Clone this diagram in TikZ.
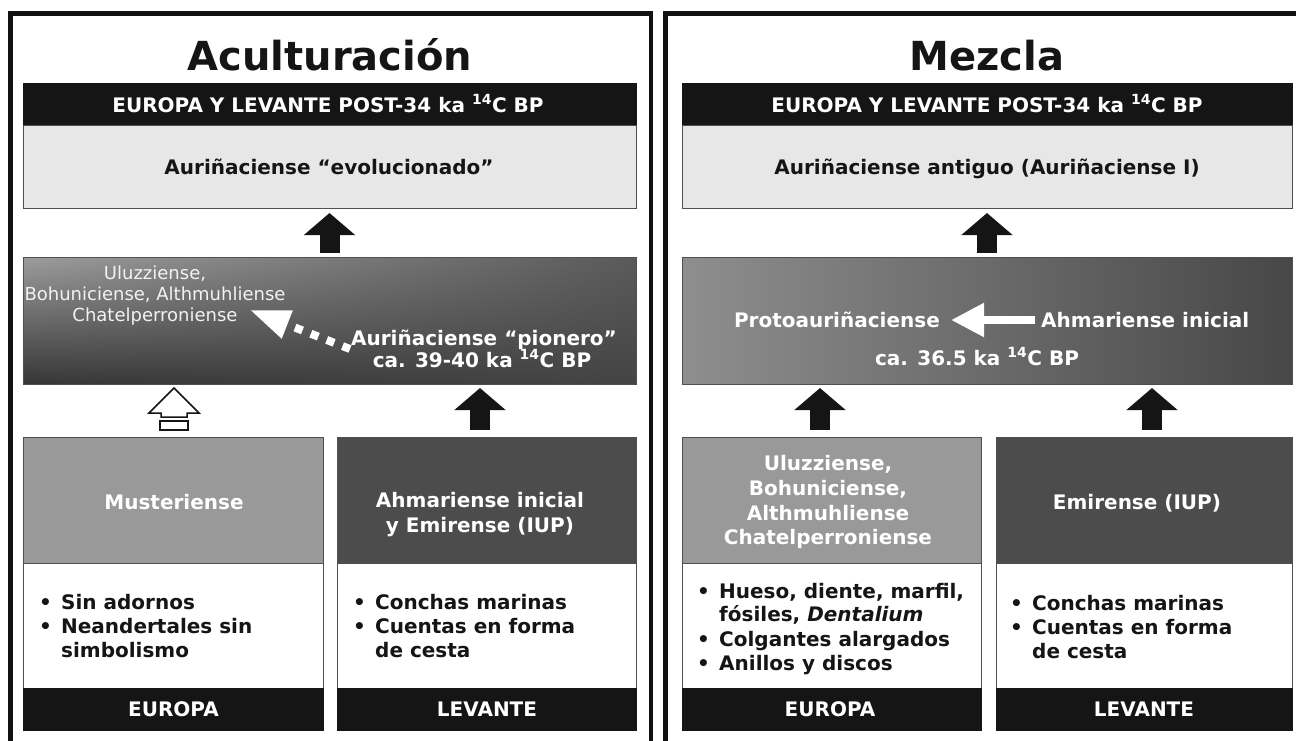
\documentclass[tikz,border=0pt]{standalone}
\usepackage{fontspec}
\setmainfont{DejaVu Sans}
\usetikzlibrary{arrows.meta,shadings}
\definecolor{barblack}{HTML}{151515}
\definecolor{lightbox}{HTML}{E7E7E7}
\definecolor{midgray}{HTML}{999999}
\definecolor{deepgray}{HTML}{4C4C4C}
\definecolor{edgegray}{HTML}{505050}
\definecolor{framec}{HTML}{111111}
\definecolor{softwhite}{HTML}{F2F2F2}
\definecolor{shA}{HTML}{9C9C9C}
\definecolor{shB}{HTML}{5A5A5A}
\definecolor{shC}{HTML}{363636}
\definecolor{shD}{HTML}{444444}
\definecolor{rmL}{HTML}{8E8E8E}
\definecolor{rmM}{HTML}{868686}
\definecolor{rmR}{HTML}{474747}
\newcommand\mybul{\makebox[22pt][l]{•}}
\newcommand\mynobul{\hspace*{22pt}}
\tikzset{
 cell/.style={rectangle, draw=edgegray, line width=0.8pt, inner sep=0pt, outer sep=0pt},
 barcell/.style={cell, fill=barblack, draw=barblack},
 lightcell/.style={cell, fill=lightbox},
 whitecell/.style={cell, fill=white},
 graycell/.style={cell, fill=midgray},
 darkcell/.style={cell, fill=deepgray},
 titletext/.style={font=\fontsize{40}{48}\selectfont\bfseries, text=barblack, inner sep=0pt},
 bold/.style={font=\fontsize{20}{24}\selectfont\bfseries, inner sep=0pt},
 whitebold/.style={bold, text=white},
 darkbold/.style={bold, text=barblack},
 thintext/.style={font=\fontsize{18}{21}\selectfont, text=softwhite, inner sep=0pt},
 blockarrow/.style={draw=barblack, line width=20pt, -{Triangle[width=50pt,length=22pt]}},
 frameline/.style={draw=framec, line width=4.5pt},
}
\begin{document}
\begin{tikzpicture}[x=1pt,y=-1pt]
\useasboundingbox (0,0) rectangle (1296,740);
\clip (0,0) rectangle (1296,740);
\fill[white] (0,0) rectangle (1296,740);
% frames
\draw[frameline] (10.5,760) -- (10.5,13.5) -- (651,13.5) -- (651,760);
\draw[frameline] (665.5,760) -- (665.5,13.5) -- (1310,13.5);

% ---------- LEFT PANEL ----------
\node[titletext, anchor=base] (Lt) at (330,70) {Aculturación};
\node[barcell, minimum width=613pt, minimum height=42pt] (Lbar) at (329.5,104) {};
\node[lightcell, minimum width=613pt, minimum height=83pt] (Lgray) at (329.5,166.5) {};
\node[cell, shade, upper left=shA, upper right=shB, lower left=shC, lower right=shD,
      minimum width=613pt, minimum height=127pt] (Lmid) at (329.5,320.5) {};
\node[graycell, minimum width=300pt, minimum height=126pt] (LblTop) at (173,500) {};
\node[whitecell, minimum width=300pt, minimum height=125pt] (LblMid) at (173,625.5) {};
\node[barcell, minimum width=300pt, minimum height=42pt] (LblBot) at (173,709) {};
\node[darkcell, minimum width=299pt, minimum height=126pt] (LbrTop) at (486.5,500) {};
\node[whitecell, minimum width=299pt, minimum height=125pt] (LbrMid) at (486.5,625.5) {};
\node[barcell, minimum width=299pt, minimum height=42pt] (LbrBot) at (486.5,709) {};

\node[whitebold, anchor=base] (Lbart) at (328,112) {EUROPA Y LEVANTE POST-34 ka \textsuperscript{14}C BP};
\node[darkbold, anchor=base] (Lgt) at (329,174) {Auriñaciense “evolucionado”};
\node[thintext, anchor=base] (Lm1) at (155,279) {Uluzziense,};
\node[thintext, anchor=base] (Lm2) at (155,300) {Bohuniciense, Althmuhliense};
\node[thintext, anchor=base] (Lm3) at (155,321) {Chatelperroniense};
\node[whitebold, anchor=base] (Lm4) at (484,345) {Auriñaciense “pionero”};
\node[whitebold, anchor=base] (Lm5) at (482,367) {ca. 39-40 ka \textsuperscript{14}C BP};
\node[whitebold, anchor=base] (Lb1) at (174,509) {Musteriense};
\node[whitebold, anchor=base] (Lb2) at (480,507) {Ahmariense inicial};
\node[whitebold, anchor=base] (Lb3) at (480,532) {y Emirense (IUP)};
\node[darkbold, anchor=base west] (Lc1) at (39,609) {\mybul Sin adornos};
\node[darkbold, anchor=base west] (Lc2) at (39,633) {\mybul Neandertales sin};
\node[darkbold, anchor=base west] (Lc3) at (39,657) {\mynobul simbolismo};
\node[darkbold, anchor=base west] (Ld1) at (353,609) {\mybul Conchas marinas};
\node[darkbold, anchor=base west] (Ld2) at (353,633) {\mybul Cuentas en forma};
\node[darkbold, anchor=base west] (Ld3) at (353,657) {\mynobul de cesta};
\node[whitebold, anchor=base] (Le1) at (173.5,716) {EUROPA};
\node[whitebold, anchor=base] (Le2) at (487,716) {LEVANTE};

% arrows left
\coordinate (xa) at (480,0);
\draw[blockarrow, shorten <=4pt, shorten >=5pt] (Lmid.north) -- (Lgray.south);
\draw[blockarrow, shorten <=7pt, shorten >=4pt] (LbrTop.north -| xa) -- (Lmid.south -| xa);
\draw[draw=barblack, line width=1.5pt, fill=white, line join=miter]
  (174,388) -- (199,413) -- (187,413) -- (187,417) -- (161,417) -- (161,413) -- (149,413) -- cycle;
\draw[draw=barblack, line width=1.5pt, fill=white] (160,421) rectangle (188,430);
\coordinate (dS) at (350,349);
\coordinate (dE) at (250,310);
\draw[white, line width=8pt, dash pattern=on 8pt off 9pt, -{Triangle[width=28pt,length=40pt]}] (dS) -- (dE);

% ---------- RIGHT PANEL ----------
\node[titletext, anchor=base] (Rt) at (987,70) {Mezcla};
\node[barcell, minimum width=610pt, minimum height=42pt] (Rbar) at (987,104) {};
\node[lightcell, minimum width=610pt, minimum height=83pt] (Rgray) at (987,166.5) {};
\node[cell, shade, left color=rmL, middle color=rmM, right color=rmR,
      minimum width=610pt, minimum height=127pt] (Rmid) at (987,320.5) {};
\node[graycell, minimum width=299pt, minimum height=126pt] (RblTop) at (831.5,500) {};
\node[whitecell, minimum width=299pt, minimum height=125pt] (RblMid) at (831.5,625.5) {};
\node[barcell, minimum width=299pt, minimum height=42pt] (RblBot) at (831.5,709) {};
\node[darkcell, minimum width=296pt, minimum height=126pt] (RbrTop) at (1144,500) {};
\node[whitecell, minimum width=296pt, minimum height=125pt] (RbrMid) at (1144,625.5) {};
\node[barcell, minimum width=296pt, minimum height=42pt] (RbrBot) at (1144,709) {};

\node[whitebold, anchor=base] (Rbart) at (987,112) {EUROPA Y LEVANTE POST-34 ka \textsuperscript{14}C BP};
\node[darkbold, anchor=base] (Rgt) at (987,174) {Auriñaciense antiguo (Auriñaciense I)};
\node[whitebold, anchor=base east] (Rm1) at (940,327) {Protoauriñaciense};
\node[whitebold, anchor=base west] (Rm2) at (1041,327) {Ahmariense inicial};
\node[whitebold, anchor=base] (Rm3) at (977,365) {ca. 36.5 ka \textsuperscript{14}C BP};
\node[whitebold, anchor=base] (Rb1) at (828,470) {Uluzziense,};
\node[whitebold, anchor=base] (Rb2) at (828,495) {Bohuniciense,};
\node[whitebold, anchor=base] (Rb3) at (828,520) {Althmuhliense};
\node[whitebold, anchor=base] (Rb4) at (828,544) {Chatelperroniense};
\node[whitebold, anchor=base] (Rb5) at (1137,509) {Emirense (IUP)};
\node[darkbold, anchor=base west] (Rc1) at (697,598) {\mybul Hueso, diente, marfil,};
\node[darkbold, anchor=base west] (Rc2) at (697,621) {\mynobul fósiles, \textit{Dentalium}};
\node[darkbold, anchor=base west] (Rc3) at (697,646) {\mybul Colgantes alargados};
\node[darkbold, anchor=base west] (Rc4) at (697,670) {\mybul Anillos y discos};
\node[darkbold, anchor=base west] (Rd1) at (1010,610) {\mybul Conchas marinas};
\node[darkbold, anchor=base west] (Rd2) at (1010,634) {\mybul Cuentas en forma};
\node[darkbold, anchor=base west] (Rd3) at (1010,658) {\mynobul de cesta};
\node[whitebold, anchor=base] (Re1) at (830,716) {EUROPA};
\node[whitebold, anchor=base] (Re2) at (1144,716) {LEVANTE};

% arrows right
\coordinate (xb) at (820,0);
\coordinate (xc) at (1152,0);
\draw[blockarrow, shorten <=4pt, shorten >=5pt] (Rmid.north) -- (Rgray.south);
\draw[blockarrow, shorten <=7pt, shorten >=4pt] (RblTop.north -| xb) -- (Rmid.south -| xb);
\draw[blockarrow, shorten <=7pt, shorten >=4pt] (RbrTop.north -| xc) -- (Rmid.south -| xc);
\coordinate (wS) at (1035,320);
\coordinate (wE) at (951,320);
\draw[white, line width=8pt, -{Triangle[width=32pt,length=33pt]}] (wS) -- (wE);
\end{tikzpicture}
\end{document}
